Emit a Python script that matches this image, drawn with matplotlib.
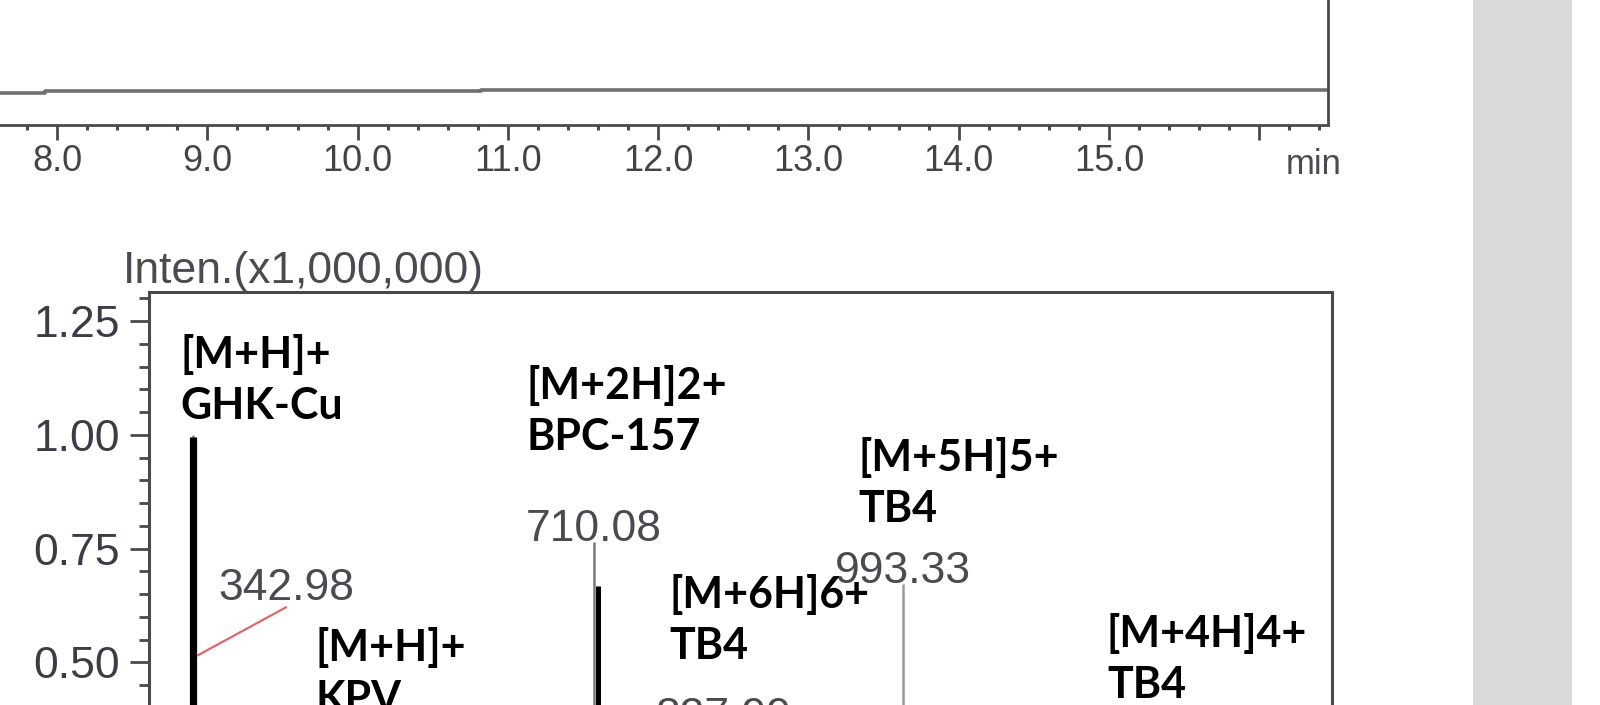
"""
Chromatogram tail (8-16 min) and MS spectrum with peptide ion labels.
Output: out.png
"""
import matplotlib
matplotlib.use('Agg')
import matplotlib.pyplot as plt
import matplotlib.patches as mpatches
from matplotlib.ticker import MultipleLocator, FixedLocator, FuncFormatter

# ---- chromatogram trace (step baseline) ----
chrom_time = [7.48, 7.92, 10.82, 16.46]
chrom_signal = [32, 34, 35.5, 35.5]
chrom_ticks = [8, 9, 10, 11, 12, 13, 14, 15, 16]

# ---- MS spectrum peaks (m/z, intensity x1e6) ----
peak_mz = [342.98, 710.08, 827.99, 993.33]
peak_int = [1.00, 0.764, 0.351, 0.672]
peak_text = ['342.98', '710.08', '827.99', '993.33']
# thick black overlay bars drawn over the raw peaks
overlay_mz = [342.98, 713.6]
overlay_int = [0.995, 0.668]
overlay_lw = [5.2, 3.6]

ion_labels = ['[M+H]+\nGHK-Cu', '[M+2H]2+\nBPC-157', '[M+5H]5+\nTB4',
              '[M+6H]6+\nTB4', '[M+H]+\nKPV', '[M+4H]4+\nTB4']
# label anchor (left x in m/z, baseline of last line in intensity)
ion_pos = [(331.8, 1.035), (648.4, 0.967), (952.1, 0.808),
           (779.1, 0.507), (455.3, 0.391), (1179.9, 0.422)]

W, H = 1600, 705
fig = plt.figure(figsize=(W / 100, H / 100), dpi=100)
fig.patch.set_facecolor('white')

# gray strip at the right edge
fig.patches.append(mpatches.Rectangle((1473 / W, 0), 99 / W, 1, transform=fig.transFigure,
                                      facecolor='#d9d9d9', edgecolor='none', zorder=0))

num_font = dict(family='Liberation Sans', color='#4a4a52')
spine_col = '#4a4a4a'

# ---- top: chromatogram ----
ax1 = fig.add_axes([-20 / W, (H - 125) / H, 1348 / W, 300 / H])
ax1.step(chrom_time, chrom_signal, where='post', color='#707070', lw=2.6)
ax1.set_xlim(7.487, 16.457)
ax1.set_ylim(0, 300)
for s in ['left', 'top']:
    ax1.spines[s].set_visible(False)
for s in ['bottom', 'right']:
    ax1.spines[s].set_color(spine_col)
    ax1.spines[s].set_linewidth(2.0)
ax1.set_yticks([])
ax1.xaxis.set_major_locator(FixedLocator(chrom_ticks))
ax1.xaxis.set_minor_locator(MultipleLocator(0.2))
ax1.xaxis.set_major_formatter(FuncFormatter(lambda v, p: '' if v >= 16 else f'{v:.1f}'))
ax1.tick_params(axis='x', which='major', direction='out', length=11, width=2,
                color=spine_col, labelsize=26, labelcolor='#444444', pad=3)
ax1.tick_params(axis='x', which='minor', direction='out', length=3.8, width=2.2, color=spine_col)
for lab in ax1.get_xticklabels():
    lab.set_family('Liberation Sans')
ax1.text(16.36, -0.075, 'min', transform=ax1.get_xaxis_transform(), ha='center', va='top',
         fontsize=25, **num_font)

# ---- bottom: MS spectrum ----
ax2 = fig.add_axes([149 / W, (H - 890) / H, 1183 / W, 598 / H])
ax2.set_xlim(302.7, 1386.0)
ax2.set_ylim(0, 1.314)
ax2.vlines(peak_mz, 0, peak_int, colors=['#8a8a8a', '#7a7a7a', '#8a8a8a', '#9a9a9a'], lw=1.8)
for mz, it, lw in zip(overlay_mz, overlay_int, overlay_lw):
    ax2.vlines(mz, 0, it, colors='black', lw=lw, zorder=3)

for mz, it, txt in zip(peak_mz, peak_int, peak_text):
    if txt == '342.98':
        continue
    ax2.text(mz, it + 0.003, txt, ha='center', va='baseline', fontsize=32, **num_font)
# moved label with red leader line
ax2.text(428.1, 0.637, '342.98', ha='center', va='baseline', fontsize=32, **num_font)
ax2.plot([347.6, 428.0], [0.516, 0.621], color='#e06868', lw=1.6, zorder=4)

for txt, (x, y) in zip(ion_labels, ion_pos):
    ax2.text(x, y, txt, ha='left', va='baseline', fontsize=31, fontweight='bold',
             family='Lato', color='black', linespacing=1.33, zorder=5)

for s in ax2.spines.values():
    s.set_color(spine_col)
    s.set_linewidth(2.2)
ax2.set_xticks([])
ax2.yaxis.set_major_locator(FixedLocator([0.25, 0.50, 0.75, 1.00, 1.25]))
ax2.yaxis.set_minor_locator(MultipleLocator(0.05))
ax2.yaxis.set_major_formatter(FuncFormatter(lambda v, p: f'{v:.2f}'))
ax2.tick_params(axis='y', which='major', direction='out', length=14, width=2,
                color=spine_col, labelsize=32, labelcolor='#3c3c48', pad=7)
ax2.tick_params(axis='y', which='minor', direction='out', length=7, width=2, color=spine_col)
for lab in ax2.get_yticklabels():
    lab.set_family('Liberation Sans')
ax2.text(-26 / 1183, 1 + 20 / 598, 'Inten.(x1,000,000)', transform=ax2.transAxes,
         ha='left', va='center', fontsize=32, **num_font)

fig.savefig('out.png', dpi=100)
